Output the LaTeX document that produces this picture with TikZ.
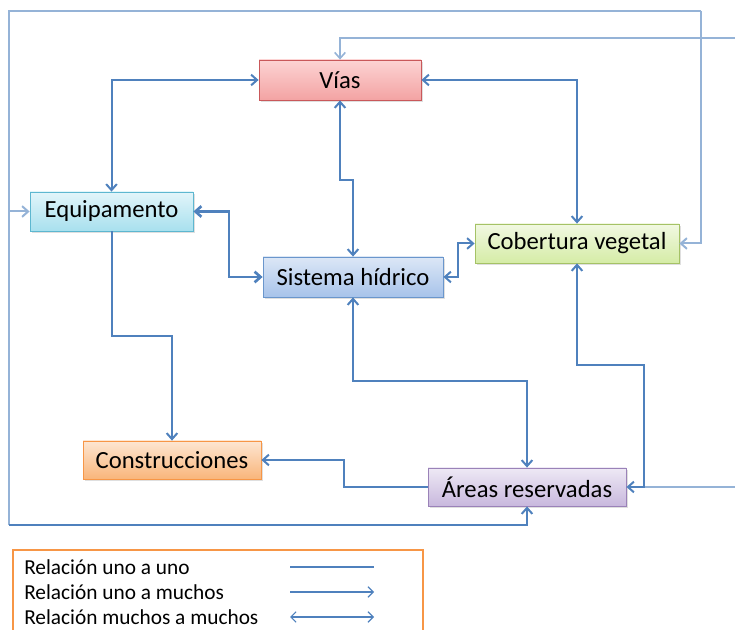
\documentclass[tikz,border=0pt]{standalone}
\usepackage{fontspec}
\setmainfont{Carlito}
\usetikzlibrary{arrows.meta,shadows}

\definecolor{linkdark}{HTML}{4F81BD}
\definecolor{linklite}{HTML}{95B3D7}
\definecolor{viasT}{HTML}{FDD3D3}\definecolor{viasB}{HTML}{F3A3A3}\definecolor{viasD}{HTML}{C9585A}
\definecolor{equT}{HTML}{E2F5FA}\definecolor{equB}{HTML}{A8E0EE}\definecolor{equD}{HTML}{5DB7D0}
\definecolor{sisT}{HTML}{DCE7F6}\definecolor{sisB}{HTML}{A7C3EA}\definecolor{sisD}{HTML}{6A96CC}
\definecolor{cobT}{HTML}{F1F8E2}\definecolor{cobB}{HTML}{D5ECA6}\definecolor{cobD}{HTML}{A5C266}
\definecolor{conT}{HTML}{FDE6D2}\definecolor{conB}{HTML}{F9B57A}\definecolor{conD}{HTML}{F79646}
\definecolor{areT}{HTML}{EEE9F5}\definecolor{areB}{HTML}{C8B8DD}\definecolor{areD}{HTML}{9A82B8}
\definecolor{legframe}{HTML}{F79646}

\tikzset{
  box/.style={draw, line width=0.6pt, inner sep=0pt, font=\fontsize{18.5}{21}\selectfont,
    drop shadow={shadow xshift=1.2pt, shadow yshift=-1.5pt, opacity=0.25}},
  link/.style={draw=linkdark, line width=1.5pt, line join=miter},
  linkl/.style={draw=linklite, line width=1.5pt},
  tipend/.style={-{Straight Barb[length=4.5pt,width=8pt]}},
  tipboth/.style={{Straight Barb[length=4.5pt,width=8pt]}-{Straight Barb[length=4.5pt,width=8pt]}},
  legtext/.style={anchor=west, inner sep=0pt, font=\fontsize{16}{18}\selectfont},
}

\begin{document}
\begin{tikzpicture}[x=0.75pt, y=-0.75pt]
\useasboundingbox (0,0) rectangle (735,630);

% entities
\node[box, top color=viasT, bottom color=viasB, draw=viasD,
      minimum width=121.5pt, minimum height=30pt] (vias) at (340,80) {Vías};
\node[box, top color=equT, bottom color=equB, draw=equD,
      minimum width=122.25pt, minimum height=29.25pt] (equip) at (111.5,211.5) {Equipamento};
\node[box, top color=sisT, bottom color=sisB, draw=sisD,
      minimum width=135pt, minimum height=30pt] (sist) at (353,277) {Sistema hídrico};
\node[box, top color=cobT, bottom color=cobB, draw=cobD,
      minimum width=153pt, minimum height=29.25pt] (cob) at (577,243.5) {Cobertura vegetal};
\node[box, top color=conT, bottom color=conB, draw=conD,
      minimum width=133.5pt, minimum height=28.5pt] (constr) at (172,460) {Construcciones};
\node[box, top color=areT, bottom color=areB, draw=areD,
      minimum width=148.5pt, minimum height=28.5pt] (areas) at (527,487) {Áreas reservadas};

% outer frame linking Equipamento, Cobertura vegetal and Áreas reservadas
\coordinate (lt) at (9,11);
\coordinate (rt) at (701,11);
\coordinate (lb) at (9,525);
\coordinate (lmid) at (9,211.5);
\path[linkl] (lb) -- (lt) -- (rt);
\draw[linkl, tipend] (rt) |- (cob.east);
\draw[linkl, tipend] (lmid) -- (equip.west);
\draw[link, tipend] (lb) -| (areas.south);

% lines running off to the right
\coordinate (redge1) at (735,38);
\coordinate (redge2) at (735,487);
\coordinate (junc) at (644,487);
\draw[linkl, line width=1.2pt, tipend] (redge1) -| (vias.north);
\draw[linkl] (redge2) -- (junc);

% relations
\draw[link, tipboth] (vias.west) -| (equip.north);
\draw[link, tipboth] (vias.east) -| (cob.north);
\draw[link, tipboth] (vias.south) -- (340,180) -| (sist.north);
\draw[link, line width=2pt, tipboth] (equip.east) -- (229,211.5) |- (sist.west);
\draw[link, tipboth] (sist.east) -- (458,277) |- (cob.west);
\draw[link, tipend] (equip.south) -- (111.5,336) -| (constr.north);
\draw[link, tipboth] (sist.south) -- (353,381) -| (areas.north);
\draw[link, tipend] (areas.west) -- (344,487) |- (constr.east);
\draw[link, tipboth] (cob.south) -- (577,365) -| (junc) -- (areas.east);

% legend
\draw[legframe, line width=1.6pt] (13,632) |- (423,550) -- (423,632);
\node[legtext] (l1) at (24,567) {Relación uno a uno};
\node[legtext] (l2) at (24,592) {Relación uno a muchos};
\node[legtext] (l3) at (24,617) {Relación muchos a muchos};
\coordinate (a1) at (290,567); \coordinate (b1) at (374,567);
\coordinate (a2) at (290,592); \coordinate (b2) at (374,592);
\coordinate (a3) at (290,617); \coordinate (b3) at (374,617);
\draw[linkdark, line width=0.8pt] (a1) -- (b1);
\draw[linkdark, line width=0.8pt, -{Straight Barb[length=4pt,width=8pt]}] (a2) -- (b2);
\draw[linkdark, line width=0.8pt, {Straight Barb[length=4pt,width=8pt]}-{Straight Barb[length=4pt,width=8pt]}] (a3) -- (b3);
\end{tikzpicture}
\end{document}
